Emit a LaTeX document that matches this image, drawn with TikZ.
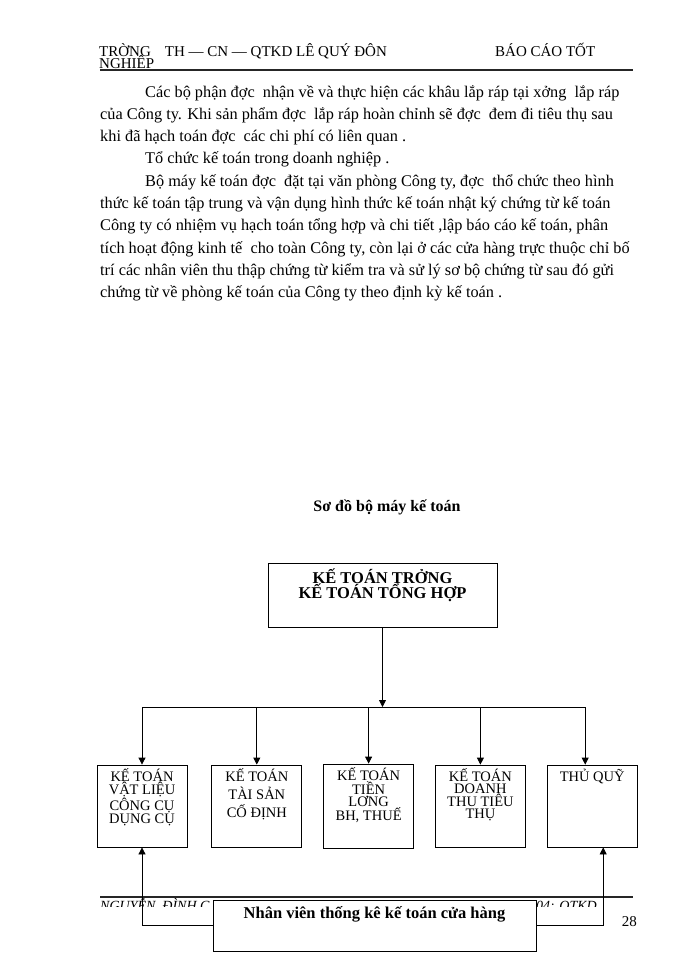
\documentclass[tikz,border=0pt]{standalone}
\usepackage{fontspec}
\setmainfont{Liberation Serif}
\usetikzlibrary{arrows.meta,positioning}

\newcommand{\boxtext}[4]{\parbox[c][#1][t]{#2}{\centering\rule{0pt}{#3}#4}}

\begin{document}
\begin{tikzpicture}[x=1pt, y=-1pt, node distance=21pt,
        unit/.style={rectangle, draw, fill=white, inner sep=0pt, line width=0.8pt, font=\fontsize{14.5}{12}\selectfont},
        link/.style={-{Triangle[length=7pt,width=7pt]}, line width=0.8pt},
        rule/.style={line width=2.2pt, draw=black!85}]

        \useasboundingbox (0,0) rectangle (700,960);

        % page header
        \node[anchor=base west, inner sep=0pt, font=\fontsize{15}{12}\selectfont] (head) at (99,57) {TRỜNG\hspace{14pt}TH — CN — QTKD LÊ QUÝ ĐÔN};
        \node[anchor=base west, inner sep=0pt, font=\fontsize{15}{12}\selectfont] (report) at (495,57) {BÁO CÁO TỐT};
        \node[anchor=base west, inner sep=0pt, font=\fontsize{15}{12}\selectfont] (headnext) at (99,69) {NGHIỆP};
        \draw[rule] (100,70) -- (633,70);

        % body text (base anchor is the last line)
        \node[anchor=base west, inner sep=0pt, align=left, font=\fontsize{16.3}{22.3}\selectfont] (body) at (100,297.7) {%
            \hspace*{45pt}Các bộ phận đợc~ nhận về và thực hiện các khâu lắp ráp tại xởng~ lắp ráp\\
            của Công ty. Khi sản phẩm đợc~ lắp ráp hoàn chỉnh sẽ đợc~ đem đi tiêu thụ sau\\
            khi đã hạch toán đợc~ các chi phí có liên quan .\\
            \hspace*{45pt}Tổ chức kế toán trong doanh nghiệp .\\
            \hspace*{45pt}Bộ máy kế toán đợc~ đặt tại văn phòng Công ty, đợc~ thổ chức theo hình\\
            thức kế toán tập trung và vận dụng hình thức kế toán nhật ký chứng từ kế toán\\
            Công ty có nhiệm vụ hạch toán tổng hợp và chi tiết ,lập báo cáo kế toán, phân\\
            tích hoạt động kinh tế~ cho toàn Công ty, còn lại ở các cửa hàng trực thuộc chỉ bố\\
            trí các nhân viên thu thập chứng từ kiểm tra và sử lý sơ bộ chứng từ sau đó gửi\\
            chứng từ về phòng kế toán của Công ty theo định kỳ kế toán .};

        % chart
        \node[anchor=base, inner sep=0pt, font=\bfseries\fontsize{16}{18}\selectfont] (title) at (387,511) {Sơ đồ bộ máy kế toán};

        \node[unit, font=\bfseries\fontsize{16.5}{14}\selectfont] (chief) at (382.5,595) {\boxtext{64pt}{229pt}{20pt}{KẾ TOÁN TRỞNG\\KẾ TOÁN TỔNG HỢP}};

        \node[unit] (acc1) at (142,806) {\boxtext{82pt}{90pt}{16pt}{KẾ TOÁN\\VẬT LIỆU\\CÔNG CỤ\\DỤNG CỤ}};
        \node[unit, right=24pt of acc1, font=\fontsize{14.5}{18}\selectfont] (acc2) {\boxtext{82pt}{90pt}{16pt}{KẾ TOÁN\\TÀI SẢN\\CỐ ĐỊNH}};
        \node[unit, right=of acc2] (acc3) {\boxtext{84pt}{90pt}{16pt}{KẾ TOÁN\\TIỀN\\LƠNG\\BH, THUẾ}};
        \node[unit, right=of acc3] (acc4) {\boxtext{82pt}{90pt}{16pt}{KẾ TOÁN\\DOANH\\THU TIÊU\\THỤ}};
        \node[unit, right=of acc4] (cash) {\boxtext{82pt}{90pt}{16pt}{THỦ QUỸ}};

        \coordinate (bus) at (382.5,707);
        \coordinate (cashin) at ([xshift=-7pt]cash.north);
        \coordinate (cashout) at ([xshift=11pt]cash.south);

        \draw[link] (chief) -- (bus);
        \draw[line width=0.8pt] (acc1.north |- bus) -- (cashin |- bus);
        \foreach \n in {acc1,acc2,acc3,acc4}
            \draw[link] (\n.north |- bus) -- (\n.north);
        \draw[link] (cashin |- bus) -- (cashin);

        % page footer
        \begin{scope}
            \clip (90,880) rectangle (650,906.5);
            \node[anchor=base west, inner sep=0pt, font=\itshape\fontsize{14}{12}\selectfont] (foot) at (100,910) {NGUYỄN\ \ ĐÌNH C};
            \node[anchor=base east, inner sep=0pt, font=\itshape\fontsize{14}{12}\selectfont] (footnext) at (597,910) {04: QTKD};
        \end{scope}
        \draw[rule] (100,897) -- (633,897);
        \node[anchor=base east, inner sep=0pt, font=\fontsize{15}{18}\selectfont] (pageno) at (637,926) {28};

        \node[unit, font=\bfseries\fontsize{16.5}{18}\selectfont] (staff) at (374.5,925.5) {\boxtext{51pt}{323pt}{18pt}{Nhân viên thống kê kế toán cửa hàng}};

        \draw[link] (staff.west) -| (acc1.south);
        \draw[link] (staff.east) -| (cashout);
    \end{tikzpicture}
\end{document}
